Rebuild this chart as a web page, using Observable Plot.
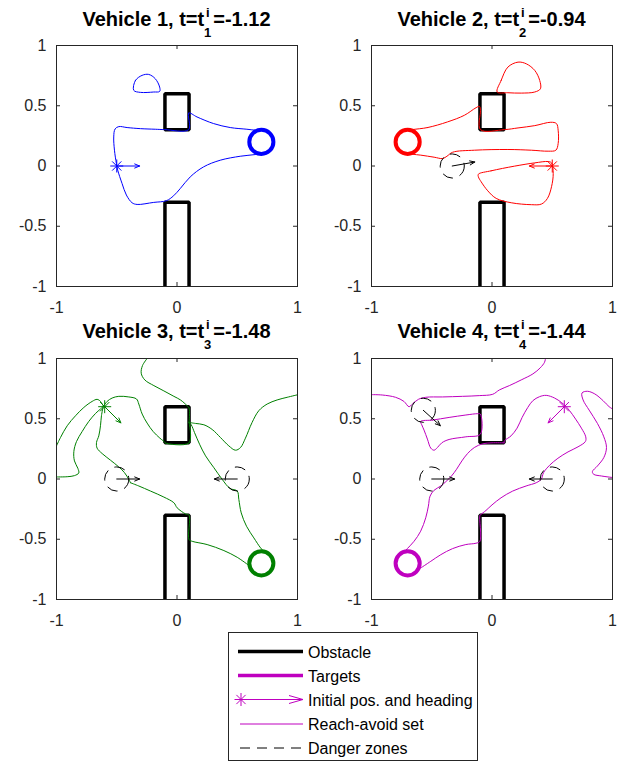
<!DOCTYPE html>
<html><head><meta charset="utf-8">
<script src="https://cdn.jsdelivr.net/npm/d3@7"></script>
<script src="https://cdn.jsdelivr.net/npm/@observablehq/plot@0.6"></script>
<style>
body{margin:0;background:#fff;font-family:"Liberation Sans",Arial,sans-serif;}
#root{position:relative;width:624px;height:762px;overflow:hidden;background:#fff;}
.panel{position:absolute;}
#overlay{position:absolute;left:0;top:0;pointer-events:none;}
</style></head><body><div id="root"></div>
<script>
// ---------- data ----------
const vehicleIds = [1, 2, 3, 4];
const tValues = ["-1.12", "-0.94", "-1.48", "-1.44"];
const colors = ["#0000ff", "#ff0000", "#008000", "#bf00bf"];
const targetX = [0.7, -0.7, 0.7, -0.7];
const targetY = [0.2, 0.2, -0.7, -0.7];
const targetRadius = 0.1;
const startX = [-0.5, 0.5, -0.6, 0.6];
const startY = [0, 0, 0.6, 0.6];
const startHeadingDeg = [0, 180, -45, -135];
const headingLength = 0.19;
const dangerRadius = 0.1;
const dangerZones = [
  [],
  [[-0.33, 0, 10]],
  [[-0.5, 0, 0], [0.5, 0, 180]],
  [[-0.57, 0.57, -42], [-0.5, 0, 0], [0.5, 0, 180]]
];
const obstacleUpper = [[-0.1, 0.3], [-0.1, 0.6], [0.1, 0.6], [0.1, 0.3]];
const obstacleLower = [[-0.1, -1], [-0.1, -0.3], [0.1, -0.3], [0.1, -1]];
const xTicks = [-1, 0, 1];
const xTickLabels = ["-1", "0", "1"];
const yTicks = [-1, -0.5, 0, 0.5, 1];
const yTickLabels = ["-1", "-0.5", "0", "0.5", "1"];
const legendLabels = ["Obstacle", "Targets", "Initial pos. and heading", "Reach-avoid set", "Danger zones"];

// reach-avoid set contours [x, y]
const v1Blob = [[-0.359,0.628],[-0.345,0.71],[-0.29,0.752],[-0.235,0.76],[-0.18,0.724],[-0.144,0.655],[-0.144,0.619],[-0.193,0.614],[-0.304,0.611]];
const v1Main = [[0.097,0.302],[0.097,0.44],[0.166,0.407],[0.304,0.352],[0.442,0.319],[0.58,0.305],[0.649,0.297],[0.75,0.287],[0.8,0.2],[0.75,0.113],[0.649,0.095],[0.525,0.081],[0.359,0.048],[0.221,-0.007],[0.11,-0.09],[0.028,-0.186],[-0.028,-0.247],[-0.088,-0.288],[-0.193,-0.302],[-0.331,-0.319],[-0.373,-0.305],[-0.42,-0.241],[-0.456,-0.145],[-0.492,-0.034],[-0.503,0.021],[-0.519,0.131],[-0.525,0.241],[-0.514,0.307],[-0.483,0.327],[-0.414,0.319],[-0.304,0.31],[-0.18,0.305],[-0.102,0.302]];
const v2Blob = [[0.043,0.614],[0.076,0.71],[0.132,0.821],[0.216,0.862],[0.285,0.848],[0.355,0.793],[0.396,0.71],[0.402,0.641],[0.355,0.614],[0.243,0.605],[0.132,0.608]];
const v2Main = [[-0.661,0.302],[-0.535,0.319],[-0.369,0.366],[-0.229,0.421],[-0.132,0.484],[-0.104,0.495],[-0.096,0.462],[-0.096,0.302],[0.104,0.302],[0.216,0.316],[0.355,0.335],[0.488,0.363],[0.535,0.352],[0.549,0.297],[0.549,0.186],[0.53,0.131],[0.466,0.123],[0.327,0.131],[0.132,0.137],[-0.146,0.131],[-0.327,0.114],[-0.374,0.081],[-0.41,0.062],[-0.48,0.073],[-0.591,0.09],[-0.661,0.098],[-0.75,0.113],[-0.8,0.2],[-0.75,0.287]];
const v2Lower = [[-0.113,-0.068],[-0.007,-0.04],[0.188,-0.001],[0.355,0.026],[0.466,0.037],[0.494,0.026],[0.508,-0.062],[0.494,-0.172],[0.46,-0.269],[0.41,-0.316],[0.327,-0.321],[0.16,-0.305],[0.035,-0.269],[-0.035,-0.206],[-0.09,-0.131],[-0.113,-0.09]];
const v3A = [[-0.248,1.0],[-0.286,0.942],[-0.297,0.878],[-0.267,0.822],[-0.192,0.775],[-0.109,0.731],[-0.026,0.686],[0.029,0.656],[0.084,0.608],[0.1,0.59],[0.1,0.469]];
const v3B = [[0.1,0.469],[0.154,0.461],[0.223,0.45],[0.292,0.411],[0.361,0.344],[0.43,0.275],[0.485,0.239],[0.527,0.261],[0.568,0.339],[0.623,0.469],[0.679,0.567],[0.748,0.622],[0.831,0.656],[0.914,0.678],[1.005,0.7]];
const v3C = [[0.1,0.469],[0.118,0.45],[0.145,0.386],[0.187,0.289],[0.237,0.192],[0.306,0.094],[0.375,-0.003],[0.439,-0.078],[0.5,-0.1],[0.513,-0.169],[0.533,-0.281],[0.577,-0.392],[0.638,-0.489],[0.694,-0.572],[0.727,-0.606]];
const v3D = [[-0.386,-0.031],[-0.317,-0.058],[-0.22,-0.1],[-0.109,-0.15],[-0.026,-0.197],[0.001,-0.239],[0.071,-0.29],[0.1,-0.3],[0.1,-0.503],[0.126,-0.517],[0.25,-0.544],[0.389,-0.594],[0.5,-0.65],[0.596,-0.717]];
const v3E = [[-0.386,-0.031],[-0.4,-0.003],[-0.436,0.053],[-0.483,0.1],[-0.552,0.156],[-0.621,0.211],[-0.663,0.256],[-0.668,0.303],[-0.649,0.358],[-0.635,0.442],[-0.627,0.525],[-0.613,0.6]];
const v3F = [[-0.613,0.6],[-0.58,0.644],[-0.538,0.672],[-0.483,0.686],[-0.4,0.681],[-0.336,0.664],[-0.317,0.622],[-0.289,0.539],[-0.248,0.464],[-0.198,0.394],[-0.142,0.339],[-0.101,0.305],[-0.1,0.3],[0.1,0.3],[0.1,0.469]];
const v3G1 = [[-1,0.275],[-0.967,0.344],[-0.911,0.442],[-0.842,0.525],[-0.773,0.594],[-0.704,0.644],[-0.663,0.661],[-0.635,0.644],[-0.613,0.608]];
const v3G2 = [[-0.613,0.6],[-0.635,0.581],[-0.676,0.544],[-0.732,0.478],[-0.787,0.394],[-0.834,0.311],[-0.856,0.228],[-0.851,0.15],[-0.823,0.089],[-0.815,0.05],[-0.851,0.028],[-0.911,0.019],[-1,0.017]];
const v4A = [[-1,0.7],[-0.911,0.697],[-0.8,0.678],[-0.731,0.644],[-0.689,0.6],[-0.661,0.622],[-0.611,0.661],[-0.55,0.678],[-0.411,0.681],[-0.244,0.686],[-0.106,0.692],[0.006,0.703],[0.061,0.739],[0.144,0.775],[0.242,0.822],[0.339,0.872],[0.4,0.922],[0.436,0.969],[0.444,1.0]];
const v4B = [[-0.592,0.478],[-0.494,0.489],[-0.356,0.511],[-0.217,0.531],[-0.119,0.542],[-0.097,0.539],[-0.097,0.372],[-0.217,0.35],[-0.356,0.328],[-0.417,0.3],[-0.453,0.261],[-0.481,0.239],[-0.508,0.256],[-0.536,0.331],[-0.564,0.406],[-0.583,0.45]];
const v4C = [[-0.736,-0.614],[-0.703,-0.578],[-0.647,-0.517],[-0.592,-0.433],[-0.55,-0.322],[-0.528,-0.225],[-0.514,-0.142],[-0.481,-0.094],[-0.425,-0.058],[-0.383,-0.022],[-0.336,0.025],[-0.294,0.081],[-0.25,0.15],[-0.203,0.211],[-0.147,0.261],[-0.078,0.292],[0.0,0.3],[0.1,0.3]];
const v4D = [[0.1,0.3],[0.103,0.317],[0.158,0.358],[0.208,0.422],[0.25,0.511],[0.297,0.594],[0.339,0.65],[0.394,0.683],[0.45,0.694],[0.519,0.672],[0.575,0.636],[0.608,0.608],[0.644,0.567],[0.694,0.497],[0.742,0.422],[0.778,0.35],[0.775,0.311],[0.714,0.267],[0.631,0.225],[0.547,0.172],[0.478,0.114],[0.428,0.053],[0.408,-0.003],[0.367,-0.031],[0.283,-0.058],[0.172,-0.1],[0.075,-0.156],[0.0,-0.215],[-0.05,-0.261],[-0.092,-0.294],[-0.1,-0.3],[-0.1,-0.517],[-0.133,-0.533],[-0.217,-0.544],[-0.328,-0.578],[-0.425,-0.628],[-0.508,-0.683],[-0.592,-0.739]];
const v4E = [[1.006,0.578],[0.972,0.6],[0.922,0.65],[0.853,0.706],[0.792,0.728],[0.747,0.714],[0.756,0.656],[0.806,0.572],[0.875,0.461],[0.928,0.35],[0.95,0.261],[0.928,0.178],[0.875,0.108],[0.833,0.061],[0.844,0.039],[0.908,0.025],[1.011,0.011]];

const closedCurves = [[v1Blob, v1Main], [v2Blob, v2Main, v2Lower], [], [v4B]];
const openCurves = [[], [], [v3A, v3B, v3C, v3D, v3E, v3F, v3G1, v3G2], [v4A, v4C, v4D, v4E]];

// ---------- rendering ----------
const axisColor = "#262626";
const fontFamily = "'Liberation Sans', Arial, sans-serif";
const asterisk = {
  draw(ctx, size) {
    const r = Math.sqrt(size / Math.PI);
    for (let k = 0; k < 4; k++) {
      const a = k * Math.PI / 4, c = r * Math.cos(a), s = r * Math.sin(a);
      ctx.moveTo(-c, -s); ctx.lineTo(c, s);
    }
  }
};
const rad = d => d * Math.PI / 180;
const root = document.getElementById("root");

const layout = [
  {left: 0, top: 35, ml: 56},
  {left: 312, top: 35, ml: 59},
  {left: 0, top: 348, ml: 56},
  {left: 312, top: 348, ml: 59}
];
const W = 312, H = 292, inner = 241, mt = 10;

vehicleIds.forEach((vid, i) => {
  const L = layout[i];
  const color = colors[i];
  const rPx = targetRadius * inner / 2;
  const rDanger = dangerRadius * inner / 2;
  const start = [{x: startX[i], y: startY[i], h: startHeadingDeg[i]}];
  const dz = dangerZones[i].map(([x, y, h]) => ({x, y, h}));
  const px = d => d[0], py = d => d[1];
  const marks = [
    Plot.line(obstacleUpper, {x: px, y: py, stroke: "black", strokeWidth: 3.5, curve: "linear-closed", strokeLinejoin: "miter"}),
    Plot.line(obstacleLower, {x: px, y: py, stroke: "black", strokeWidth: 3.5, strokeLinejoin: "miter", clip: true}),
    ...closedCurves[i].map(c => Plot.line(c, {x: px, y: py, stroke: color, strokeWidth: 1, curve: "catmull-rom-closed", clip: true})),
    ...openCurves[i].map(c => Plot.line(c, {x: px, y: py, stroke: color, strokeWidth: 1, curve: "catmull-rom", clip: true})),
    Plot.dot([{x: targetX[i], y: targetY[i]}], {x: "x", y: "y", r: rPx, stroke: color, strokeWidth: 4, fill: "none"}),
    Plot.dot(dz, {x: "x", y: "y", r: rDanger, stroke: "black", strokeWidth: 1, fill: "none", strokeDasharray: "11,7"}),
    Plot.arrow(dz, {x1: "x", y1: "y", x2: d => d.x + headingLength * Math.cos(rad(d.h)), y2: d => d.y + headingLength * Math.sin(rad(d.h)), stroke: "black", strokeWidth: 1, headLength: 8, headAngle: 45}),
    Plot.arrow(start, {x1: "x", y1: "y", x2: d => d.x + headingLength * Math.cos(rad(d.h)), y2: d => d.y + headingLength * Math.sin(rad(d.h)), stroke: color, strokeWidth: 1, headLength: 8, headAngle: 45}),
    Plot.dot(start, {x: "x", y: "y", symbol: asterisk, r: 6.5, stroke: color, strokeWidth: 1, fill: "none"}),
    Plot.frame({stroke: axisColor, strokeWidth: 1}),
    Plot.tickX(xTicks, {x: d => d, insetTop: inner - 4, stroke: axisColor}),
    Plot.tickX(xTicks, {x: d => d, insetBottom: inner - 4, stroke: axisColor}),
    Plot.tickY(yTicks, {y: d => d, insetRight: inner - 4, stroke: axisColor}),
    Plot.tickY(yTicks, {y: d => d, insetLeft: inner - 4, stroke: axisColor}),
    Plot.axisX(xTicks, {tickSize: 0, tickPadding: 15, tickFormat: d => xTickLabels[xTicks.indexOf(d)], label: null, fill: axisColor}),
    Plot.axisY(yTicks, {tickSize: 0, tickPadding: 10, tickFormat: d => yTickLabels[yTicks.indexOf(d)], label: null, fill: axisColor})
  ];
  const chart = Plot.plot({
    width: W, height: H,
    marginLeft: L.ml, marginRight: W - L.ml - inner, marginTop: mt, marginBottom: H - mt - inner,
    x: {domain: [-1, 1]},
    y: {domain: [-1, 1]},
    style: {fontFamily, fontSize: "16px", background: "transparent", overflow: "visible", color: axisColor},
    marks
  });
  const div = document.createElement("div");
  div.className = "panel";
  div.style.left = L.left + "px";
  div.style.top = L.top + "px";
  div.appendChild(chart);
  root.appendChild(div);
});

// ---------- titles and legend overlay ----------
const svg = d3.select(root).append("svg").attr("id", "overlay").attr("width", 624).attr("height", 762)
  .style("font-family", fontFamily);

const titlePos = [[176.5, 26], [491.5, 26], [176.5, 338], [491.5, 338]];
vehicleIds.forEach((vid, i) => {
  const t = svg.append("text").attr("x", titlePos[i][0]).attr("y", titlePos[i][1])
    .attr("text-anchor", "middle").attr("font-weight", "bold").attr("font-size", 20).attr("fill", "black");
  t.append("tspan").text(`Vehicle ${vid}, t=t`);
  t.append("tspan").attr("font-size", 13).attr("dx", 1.8).attr("dy", -9).text("i");
  t.append("tspan").attr("font-size", 13).attr("dx", -5.6).attr("dy", 20).text(String(vid));
  t.append("tspan").attr("dx", 2).attr("dy", -11).text(`=${tValues[i]}`);
});

const lg = svg.append("g");
lg.append("rect").attr("x", 228.5).attr("y", 632.5).attr("width", 249).attr("height", 128)
  .attr("fill", "white").attr("stroke", axisColor).attr("stroke-width", 1);
const rowY = [651.5, 675.5, 699.5, 724, 748];
const sampleX1 = 240, sampleX2 = 303, textX = 308;
const mag = colors[3];
lg.append("line").attr("x1", sampleX1 - 2).attr("x2", sampleX2).attr("y1", rowY[0]).attr("y2", rowY[0]).attr("stroke", "black").attr("stroke-width", 3.5);
lg.append("line").attr("x1", sampleX1 - 2).attr("x2", sampleX2).attr("y1", rowY[1]).attr("y2", rowY[1]).attr("stroke", mag).attr("stroke-width", 3.5);
lg.append("line").attr("x1", sampleX1).attr("x2", sampleX2).attr("y1", rowY[2]).attr("y2", rowY[2]).attr("stroke", mag).attr("stroke-width", 1);
lg.append("path").attr("d", `M${sampleX2 - 14},${rowY[2] - 4}L${sampleX2},${rowY[2]}L${sampleX2 - 14},${rowY[2] + 4}`).attr("fill", "none").attr("stroke", mag).attr("stroke-width", 1);
{
  const p = d3.path(); asterisk.draw(p, 6.5 * 6.5 * Math.PI);
  lg.append("path").attr("transform", `translate(${sampleX1 + 1},${rowY[2]})`).attr("d", p.toString()).attr("fill", "none").attr("stroke", mag).attr("stroke-width", 1);
}
lg.append("line").attr("x1", sampleX1).attr("x2", sampleX2).attr("y1", rowY[3]).attr("y2", rowY[3]).attr("stroke", mag).attr("stroke-width", 1);
lg.append("line").attr("x1", sampleX1).attr("x2", sampleX2).attr("y1", rowY[4]).attr("y2", rowY[4]).attr("stroke", "black").attr("stroke-width", 1).attr("stroke-dasharray", "10,7");
legendLabels.forEach((lab, k) => {
  lg.append("text").attr("x", textX).attr("y", rowY[k] + 6).attr("font-size", 16).attr("fill", "black").text(lab);
});
</script></body></html>
